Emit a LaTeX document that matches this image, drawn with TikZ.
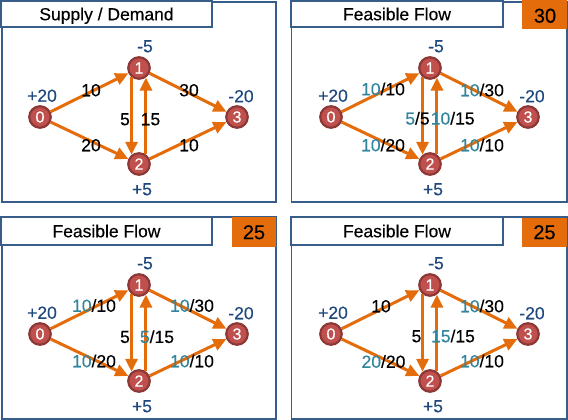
\documentclass[tikz,border=0pt]{standalone}
\usepackage{fontspec}
\setmainfont{Liberation Sans}[FakeBold=0.3]
\usetikzlibrary{arrows.meta}
\definecolor{orng}{RGB}{228,108,10}
\definecolor{nodefill}{RGB}{192,80,77}
\definecolor{nodeedge}{RGB}{140,56,54}
\definecolor{supc}{RGB}{31,73,125}
\definecolor{flowc}{RGB}{49,133,156}
\definecolor{boxc}{RGB}{56,93,138}
\newcommand\fl[1]{\textcolor{flowc}{#1}}
\tikzset{
 vert/.style={circle, fill=nodefill, draw=nodeedge, line width=2.2pt, minimum size=21.5pt, inner sep=0pt, text=white, font=\fontsize{16}{16}\selectfont},
 flowarc/.style={draw=orng, line width=3pt, -{Triangle[length=13pt,width=12pt]}},
 elab/.style={font=\fontsize{17.5}{17.5}\selectfont, text height=12.5pt, text depth=0pt, inner sep=0pt},
 slab/.style={elab, text=supc},
 outerbox/.style={draw=boxc, line width=1.3pt},
 titlebox/.style={draw=boxc, line width=2.2pt, fill=white},
 valbox/.style={fill=orng},
 ttl/.style={font=\fontsize{17.5}{17.5}\selectfont, text height=12.5pt, text depth=0pt, inner sep=0pt},
 val/.style={font=\fontsize{20}{20}\selectfont, text height=14.3pt, text depth=0pt, inner sep=0pt},
}
\newcommand\network[1]{%
 \node[vert] (#1n0) at (40,117) {0};
 \node[vert] (#1n1) at (139,68) {1};
 \node[vert] (#1n2) at (139,164) {2};
 \node[vert] (#1n3) at (237,117) {3};
 \draw[flowarc] (#1n0) -- (#1n1);
 \draw[flowarc] (#1n0) -- (#1n2);
 \draw[flowarc] (#1n1) -- (#1n3);
 \draw[flowarc] (#1n2) -- (#1n3);
 \draw[flowarc] (#1n1.231) -- (#1n2.129);
 \draw[flowarc] (#1n2.54) -- (#1n1.-54);
 \node[slab] (#1s0) at (42,95.5) {+20};
 \node[slab] (#1s1) at (145,46) {-5};
 \node[slab] (#1s2) at (142,189) {+5};
 \node[slab] (#1s3) at (241,96) {-20};
}
\begin{document}
\begin{tikzpicture}[x=1pt,y=-1pt]
\useasboundingbox (0,0) rectangle (568,420);
% panel 1
\draw[outerbox] (2,2) rectangle (276,202);
\draw[titlebox] (1,1) rectangle (212,27);
\node[ttl] (t1) at (106.5,14) {Supply / Demand};
\network{a}
\node[elab] (a01) at (91,90) {10};
\node[elab] (a02) at (91,145) {20};
\node[elab] (a13) at (189,90) {30};
\node[elab] (a23) at (189,145) {10};
\node[elab] (a12) at (125,119) {5};
\node[elab] (a21) at (150.5,119) {15};
% panel 2
\draw[outerbox] (291.5,2) rectangle (567,202);
\draw[titlebox] (291,1) rectangle (503,27);
\fill[valbox] (522,0) rectangle (567,29.5);
\node[ttl] (t2) at (397,14) {Feasible Flow};
\node[val] (v2) at (545,15.5) {30};
\begin{scope}[shift={(291,0)}]
\network{b}
\node[elab] (b01) at (92,89) {\fl{10}/10};
\node[elab] (b02) at (92,145) {\fl{10}/20};
\node[elab] (b13) at (191,90) {\fl{10}/30};
\node[elab] (b23) at (191,145) {\fl{10}/10};
\node[elab] (b12) at (126.5,118.3) {\fl{5}/5};
\node[elab] (b21) at (161.7,118.3) {\fl{10}/15};
\end{scope}
% panel 3
\draw[outerbox] (2,217) rectangle (276,419);
\draw[titlebox] (1,217) rectangle (212,245);
\fill[valbox] (232,217) rectangle (276,247);
\node[ttl] (t3) at (106.5,231) {Feasible Flow};
\node[val] (v3) at (254,232) {25};
\begin{scope}[shift={(0,217)}]
\network{c}
\node[elab] (c01) at (94,88.5) {\fl{10}/10};
\node[elab] (c02) at (94,144) {\fl{10}/20};
\node[elab] (c13) at (192,88.5) {\fl{10}/30};
\node[elab] (c23) at (192,144) {\fl{10}/10};
\node[elab] (c12) at (125,119.7) {5};
\node[elab] (c21) at (157,119.7) {\fl{5}/15};
\end{scope}
% panel 4
\draw[outerbox] (291.5,217) rectangle (567,419);
\draw[titlebox] (291,217) rectangle (503,245);
\fill[valbox] (522,217.5) rectangle (567,247);
\node[ttl] (t4) at (397,231) {Feasible Flow};
\node[val] (v4) at (544.5,232) {25};
\begin{scope}[shift={(291,217)}]
\network{d}
\node[elab] (d01) at (90,89) {10};
\node[elab] (d02) at (92.5,144.5) {\fl{20}/20};
\node[elab] (d13) at (191,89) {\fl{10}/30};
\node[elab] (d23) at (191,144) {\fl{10}/10};
\node[elab] (d12) at (125.5,119) {5};
\node[elab] (d21) at (162,119) {\fl{15}/15};
\end{scope}
\end{tikzpicture}
\end{document}
